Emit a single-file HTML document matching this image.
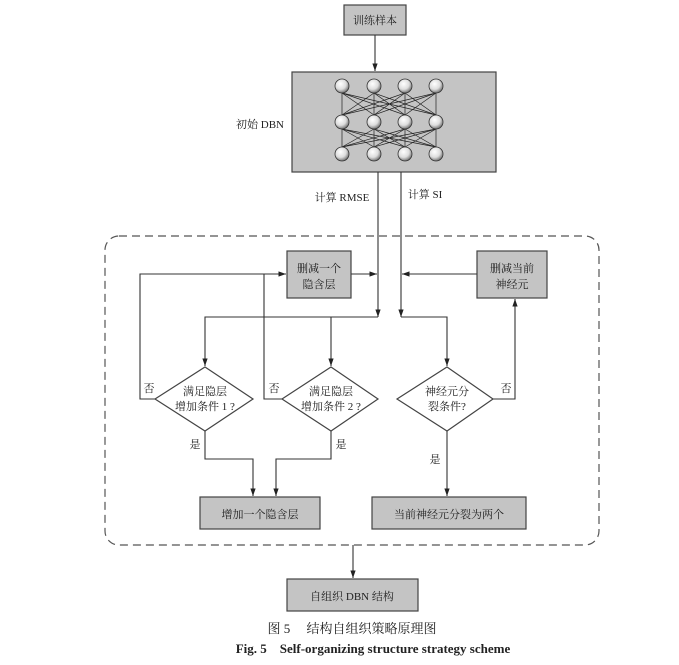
<!DOCTYPE html>
<html><head><meta charset="utf-8"><style>
body{margin:0;background:#fff}
svg{display:block}
text{font-family:"Liberation Serif","Noto Serif CJK SC","Noto Sans CJK SC",serif;fill:#222}
</style></head><body>
<svg width="679" height="665" viewBox="0 0 679 665" xmlns="http://www.w3.org/2000/svg">
<defs>
<marker id="a" viewBox="0 0 10 10" refX="10" refY="5" markerWidth="7" markerHeight="7" orient="auto-start-reverse"><path d="M0,1.5 L10,5 L0,8.5z" fill="#222"/></marker>
<radialGradient id="g" cx="40%" cy="35%" r="65%"><stop offset="0" stop-color="#fff"/><stop offset="0.6" stop-color="#ddd"/><stop offset="1" stop-color="#777"/></radialGradient>
</defs>
<g stroke="#444" stroke-width="1.2" fill="#c4c4c4">
<rect x="344" y="5" width="62" height="30"/>
<rect x="292" y="72" width="204" height="100"/>
<rect x="287" y="251" width="64" height="47"/>
<rect x="477" y="251" width="70" height="47"/>
<rect x="200" y="497" width="120" height="32"/>
<rect x="372" y="497" width="154" height="32"/>
<rect x="287" y="579" width="131" height="32"/>
</g>
<rect x="105" y="236" width="494" height="309" rx="14" fill="none" stroke="#555" stroke-width="1.2" stroke-dasharray="8,5"/>
<g stroke="#222" stroke-width="0.7">
<line x1="342" y1="93" x2="342" y2="115"/><line x1="342" y1="93" x2="374" y2="115"/><line x1="342" y1="93" x2="405" y2="115"/><line x1="342" y1="93" x2="436" y2="115"/>
<line x1="374" y1="93" x2="342" y2="115"/><line x1="374" y1="93" x2="374" y2="115"/><line x1="374" y1="93" x2="405" y2="115"/><line x1="374" y1="93" x2="436" y2="115"/>
<line x1="405" y1="93" x2="342" y2="115"/><line x1="405" y1="93" x2="374" y2="115"/><line x1="405" y1="93" x2="405" y2="115"/><line x1="405" y1="93" x2="436" y2="115"/>
<line x1="436" y1="93" x2="342" y2="115"/><line x1="436" y1="93" x2="374" y2="115"/><line x1="436" y1="93" x2="405" y2="115"/><line x1="436" y1="93" x2="436" y2="115"/>
<line x1="342" y1="129" x2="342" y2="147"/><line x1="342" y1="129" x2="374" y2="147"/><line x1="342" y1="129" x2="405" y2="147"/><line x1="342" y1="129" x2="436" y2="147"/>
<line x1="374" y1="129" x2="342" y2="147"/><line x1="374" y1="129" x2="374" y2="147"/><line x1="374" y1="129" x2="405" y2="147"/><line x1="374" y1="129" x2="436" y2="147"/>
<line x1="405" y1="129" x2="342" y2="147"/><line x1="405" y1="129" x2="374" y2="147"/><line x1="405" y1="129" x2="405" y2="147"/><line x1="405" y1="129" x2="436" y2="147"/>
<line x1="436" y1="129" x2="342" y2="147"/><line x1="436" y1="129" x2="374" y2="147"/><line x1="436" y1="129" x2="405" y2="147"/><line x1="436" y1="129" x2="436" y2="147"/>
</g>
<g fill="url(#g)" stroke="#333" stroke-width="0.8">
<circle cx="342" cy="86" r="7"/><circle cx="374" cy="86" r="7"/><circle cx="405" cy="86" r="7"/><circle cx="436" cy="86" r="7"/>
<circle cx="342" cy="122" r="7"/><circle cx="374" cy="122" r="7"/><circle cx="405" cy="122" r="7"/><circle cx="436" cy="122" r="7"/>
<circle cx="342" cy="154" r="7"/><circle cx="374" cy="154" r="7"/><circle cx="405" cy="154" r="7"/><circle cx="436" cy="154" r="7"/>
</g>
<g fill="#fff" stroke="#444" stroke-width="1.2">
<polygon points="205,367 253,399 205,431 155,399"/>
<polygon points="331,367 378,399 331,431 282,399"/>
<polygon points="447,367 493,399 447,431 397,399"/>
</g>
<g fill="none" stroke="#333" stroke-width="1.1">
<line x1="375" y1="35" x2="375" y2="71" marker-end="url(#a)"/>
<polyline points="378,172 378,317" marker-end="url(#a)"/>
<polyline points="401,172 401,317" marker-end="url(#a)"/>
<line x1="351" y1="274" x2="377" y2="274" marker-end="url(#a)"/>
<line x1="477" y1="274" x2="402" y2="274" marker-end="url(#a)"/>
<polyline points="378,317 205,317 205,366" marker-end="url(#a)"/>
<polyline points="331,317 331,366" marker-end="url(#a)"/>
<polyline points="401,317 447,317 447,366" marker-end="url(#a)"/>
<polyline points="155,399 140,399 140,274 286,274" marker-end="url(#a)"/>
<polyline points="282,399 264,399 264,274"/>
<polyline points="493,399 515,399 515,299" marker-end="url(#a)"/>
<polyline points="205,431 205,459 253,459 253,496" marker-end="url(#a)"/>
<polyline points="331,431 331,459 276,459 276,496" marker-end="url(#a)"/>
<line x1="447" y1="431" x2="447" y2="496" marker-end="url(#a)"/>
<line x1="353" y1="545" x2="353" y2="578" marker-end="url(#a)"/>
</g>
<g font-size="11" text-anchor="middle">
<text x="375" y="24">训练样本</text>
<text x="260" y="128">初始 DBN</text>
<text x="342" y="201">计算 RMSE</text>
<text x="425" y="198">计算 SI</text>
<text x="319" y="272">删减一个</text>
<text x="319" y="288">隐含层</text>
<text x="512" y="272">删减当前</text>
<text x="512" y="288">神经元</text>
<text x="205" y="395">满足隐层</text>
<text x="205" y="410">增加条件 1 ?</text>
<text x="331" y="395">满足隐层</text>
<text x="331" y="410">增加条件 2 ?</text>
<text x="447" y="395">神经元分</text>
<text x="447" y="410">裂条件?</text>
<text x="149" y="392">否</text>
<text x="274" y="392">否</text>
<text x="506" y="392">否</text>
<text x="195" y="448">是</text>
<text x="341" y="448">是</text>
<text x="435" y="463">是</text>
<text x="260" y="518">增加一个隐含层</text>
<text x="449" y="518">当前神经元分裂为两个</text>
<text x="352" y="600">自组织 DBN 结构</text>
<text x="352" y="633" font-size="13">图 5　 结构自组织策略原理图</text>
<text x="373" y="653" font-size="13" font-weight="bold">Fig. 5　Self-organizing structure strategy scheme</text>
</g>
</svg>
</body></html>
